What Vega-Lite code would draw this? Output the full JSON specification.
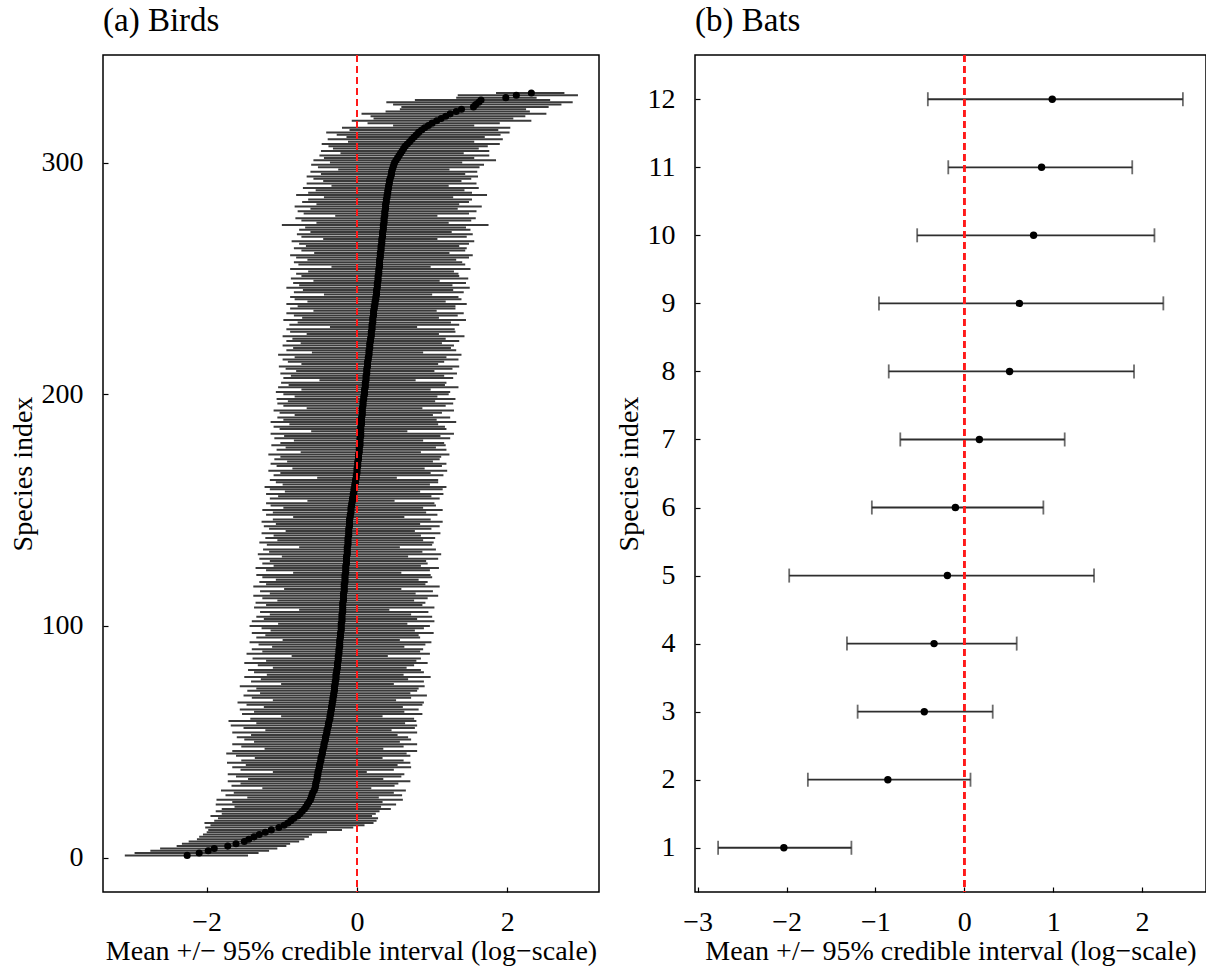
{
"$schema": "https://vega.github.io/schema/vega-lite/v6.json",
"background": "white",
"padding": {"left": 8, "top": 4, "right": 0, "bottom": 0},
"spacing": 14,
"config": {
  "font": "Liberation Serif",
  "view": {"stroke": "black", "strokeWidth": 1.5},
  "axis": {"domain": false, "grid": false, "ticks": true, "tickColor": "black", "tickSize": -5, "tickWidth": 1.2, "format": "d",
    "labelFont": "Liberation Serif", "labelFontSize": 28, "labelColor": "black", "labelFlush": false, "labelOverlap": false, "labelBound": false,
    "titleFont": "Liberation Serif", "titleFontSize": 28, "titleFontWeight": "normal", "titleColor": "black"},
  "axisX": {"labelPadding": 21, "titlePadding": 1},
  "axisY": {"labelPadding": 25, "titlePadding": 4},
  "title": {"font": "Liberation Serif", "fontSize": 33, "fontWeight": "normal", "anchor": "start", "frame": "group", "baseline": "alphabetic", "offset": 16, "color": "black"}
},
"hconcat": [
{
  "width": 496, "height": 837,
  "title": "(a) Birds",
  "data": {"values": [
{"i":1,"m":-2.26,"lo":-3.09,"hi":-1.45},{"i":2,"m":-2.10,"lo":-2.96,"hi":-1.31},{"i":3,"m":-1.98,"lo":-2.75,"hi":-1.17},{"i":4,"m":-1.90,"lo":-2.62,"hi":-1.06},{"i":5,"m":-1.72,"lo":-2.40,"hi":-0.94},
{"i":6,"m":-1.61,"lo":-2.33,"hi":-0.89},{"i":7,"m":-1.50,"lo":-2.24,"hi":-0.77},{"i":8,"m":-1.44,"lo":-2.13,"hi":-0.70},{"i":9,"m":-1.37,"lo":-2.10,"hi":-0.64},{"i":10,"m":-1.30,"lo":-2.05,"hi":-0.60},
{"i":11,"m":-1.22,"lo":-2.00,"hi":-0.40},{"i":12,"m":-1.14,"lo":-1.98,"hi":-0.20},{"i":13,"m":-1.04,"lo":-2.02,"hi":-0.05},{"i":14,"m":-0.97,"lo":-1.95,"hi":0.10},{"i":15,"m":-0.92,"lo":-2.03,"hi":0.22},
{"i":16,"m":-0.88,"lo":-1.90,"hi":0.26},{"i":17,"m":-0.84,"lo":-1.85,"hi":0.28},{"i":18,"m":-0.79,"lo":-1.95,"hi":0.20},{"i":19,"m":-0.76,"lo":-1.80,"hi":0.25},{"i":20,"m":-0.73,"lo":-1.88,"hi":0.30},
{"i":21,"m":-0.70,"lo":-1.80,"hi":0.45},{"i":22,"m":-0.68,"lo":-1.63,"hi":0.32},{"i":23,"m":-0.66,"lo":-1.88,"hi":0.52},{"i":24,"m":-0.64,"lo":-1.66,"hi":0.34},{"i":25,"m":-0.62,"lo":-1.87,"hi":0.61},
{"i":26,"m":-0.61,"lo":-1.46,"hi":0.29},{"i":27,"m":-0.60,"lo":-1.75,"hi":0.60},{"i":28,"m":-0.59,"lo":-1.64,"hi":0.49},{"i":29,"m":-0.57,"lo":-1.81,"hi":0.65},{"i":30,"m":-0.56,"lo":-1.26,"hi":0.19},
{"i":31,"m":-0.55,"lo":-1.67,"hi":0.50},{"i":32,"m":-0.55,"lo":-1.55,"hi":0.55},{"i":33,"m":-0.54,"lo":-1.72,"hi":0.71},{"i":34,"m":-0.53,"lo":-1.45,"hi":0.35},{"i":35,"m":-0.53,"lo":-1.61,"hi":0.59},
{"i":36,"m":-0.52,"lo":-1.72,"hi":0.63},{"i":37,"m":-0.52,"lo":-1.12,"hi":0.13},{"i":38,"m":-0.51,"lo":-1.55,"hi":0.49},{"i":39,"m":-0.50,"lo":-1.66,"hi":0.72},{"i":40,"m":-0.50,"lo":-1.48,"hi":0.54},
{"i":41,"m":-0.49,"lo":-1.73,"hi":0.71},{"i":42,"m":-0.48,"lo":-1.54,"hi":0.62},{"i":43,"m":-0.48,"lo":-1.36,"hi":0.34},{"i":44,"m":-0.47,"lo":-1.61,"hi":0.71},{"i":45,"m":-0.46,"lo":-1.74,"hi":0.66},
{"i":46,"m":-0.46,"lo":-1.66,"hi":0.80},{"i":47,"m":-0.45,"lo":-1.23,"hi":0.35},{"i":48,"m":-0.44,"lo":-1.54,"hi":0.62},{"i":49,"m":-0.44,"lo":-1.66,"hi":0.80},{"i":50,"m":-0.43,"lo":-1.37,"hi":0.57},
{"i":51,"m":-0.42,"lo":-1.50,"hi":0.72},{"i":52,"m":-0.42,"lo":-1.60,"hi":0.68},{"i":53,"m":-0.41,"lo":-1.41,"hi":0.54},{"i":54,"m":-0.40,"lo":-1.66,"hi":0.80},{"i":55,"m":-0.40,"lo":-1.22,"hi":0.46},
{"i":56,"m":-0.39,"lo":-1.51,"hi":0.77},{"i":57,"m":-0.38,"lo":-1.68,"hi":0.80},{"i":58,"m":-0.38,"lo":-1.34,"hi":0.64},{"i":59,"m":-0.37,"lo":-1.71,"hi":0.79},{"i":60,"m":-0.36,"lo":-1.42,"hi":0.76},
{"i":61,"m":-0.36,"lo":-1.01,"hi":0.34},{"i":62,"m":-0.35,"lo":-1.53,"hi":0.87},{"i":63,"m":-0.35,"lo":-1.37,"hi":0.63},{"i":64,"m":-0.34,"lo":-1.56,"hi":0.82},{"i":65,"m":-0.34,"lo":-1.24,"hi":0.61},
{"i":66,"m":-0.33,"lo":-1.47,"hi":0.87},{"i":67,"m":-0.33,"lo":-1.59,"hi":0.89},{"i":68,"m":-0.32,"lo":-1.12,"hi":0.52},{"i":69,"m":-0.32,"lo":-1.40,"hi":0.72},{"i":70,"m":-0.31,"lo":-1.51,"hi":0.93},
{"i":71,"m":-0.31,"lo":-1.29,"hi":0.71},{"i":72,"m":-0.30,"lo":-1.46,"hi":0.80},{"i":73,"m":-0.30,"lo":-1.34,"hi":0.82},{"i":74,"m":-0.30,"lo":-1.56,"hi":0.90},{"i":75,"m":-0.29,"lo":-1.01,"hi":0.49},
{"i":76,"m":-0.29,"lo":-1.41,"hi":0.89},{"i":77,"m":-0.28,"lo":-1.28,"hi":0.68},{"i":78,"m":-0.28,"lo":-1.50,"hi":0.98},{"i":79,"m":-0.28,"lo":-1.20,"hi":0.62},{"i":80,"m":-0.27,"lo":-1.37,"hi":0.89},
{"i":81,"m":-0.27,"lo":-1.45,"hi":0.85},{"i":82,"m":-0.26,"lo":-1.12,"hi":0.66},{"i":83,"m":-0.26,"lo":-1.32,"hi":0.76},{"i":84,"m":-0.26,"lo":-1.50,"hi":0.94},{"i":85,"m":-0.25,"lo":-1.21,"hi":0.79},
{"i":86,"m":-0.25,"lo":-1.39,"hi":0.85},{"i":87,"m":-0.25,"lo":-0.87,"hi":0.41},{"i":88,"m":-0.24,"lo":-1.47,"hi":0.97},{"i":89,"m":-0.24,"lo":-1.26,"hi":0.84},{"i":90,"m":-0.24,"lo":-1.40,"hi":0.88},
{"i":91,"m":-0.23,"lo":-1.13,"hi":0.63},{"i":92,"m":-0.23,"lo":-1.31,"hi":0.91},{"i":93,"m":-0.23,"lo":-1.43,"hi":0.99},{"i":94,"m":-0.23,"lo":-0.99,"hi":0.57},{"i":95,"m":-0.22,"lo":-1.34,"hi":0.84},
{"i":96,"m":-0.22,"lo":-1.22,"hi":0.82},{"i":97,"m":-0.22,"lo":-1.40,"hi":1.02},{"i":98,"m":-0.21,"lo":-1.15,"hi":0.77},{"i":99,"m":-0.21,"lo":-1.27,"hi":0.89},{"i":100,"m":-0.21,"lo":-1.43,"hi":0.97},
{"i":101,"m":-0.21,"lo":-1.05,"hi":0.67},{"i":102,"m":-0.20,"lo":-1.40,"hi":1.03},{"i":103,"m":-0.20,"lo":-1.24,"hi":0.80},{"i":104,"m":-0.20,"lo":-1.34,"hi":1.00},{"i":105,"m":-0.20,"lo":-1.16,"hi":0.72},
{"i":106,"m":-0.19,"lo":-1.29,"hi":0.95},{"i":107,"m":-0.19,"lo":-0.77,"hi":0.43},{"i":108,"m":-0.19,"lo":-1.37,"hi":1.03},{"i":109,"m":-0.19,"lo":-1.21,"hi":0.87},{"i":110,"m":-0.19,"lo":-1.35,"hi":0.91},
{"i":111,"m":-0.18,"lo":-1.06,"hi":0.76},{"i":112,"m":-0.18,"lo":-1.26,"hi":0.94},{"i":113,"m":-0.18,"lo":-1.38,"hi":1.08},{"i":114,"m":-0.18,"lo":-1.16,"hi":0.78},{"i":115,"m":-0.17,"lo":-1.29,"hi":1.01},
{"i":116,"m":-0.17,"lo":-0.97,"hi":0.59},{"i":117,"m":-0.17,"lo":-1.38,"hi":1.10},{"i":118,"m":-0.17,"lo":-1.21,"hi":0.91},{"i":119,"m":-0.16,"lo":-1.30,"hi":0.94},{"i":120,"m":-0.16,"lo":-1.08,"hi":0.82},
{"i":121,"m":-0.16,"lo":-1.26,"hi":1.00},{"i":122,"m":-0.16,"lo":-1.34,"hi":0.98},{"i":123,"m":-0.15,"lo":-0.85,"hi":0.59},{"i":124,"m":-0.15,"lo":-1.21,"hi":0.97},{"i":125,"m":-0.15,"lo":-1.35,"hi":1.09},
{"i":126,"m":-0.15,"lo":-1.11,"hi":0.85},{"i":127,"m":-0.14,"lo":-1.26,"hi":0.94},{"i":128,"m":-0.14,"lo":-1.16,"hi":0.92},{"i":129,"m":-0.14,"lo":-1.30,"hi":1.08},{"i":130,"m":-0.14,"lo":-1.00,"hi":0.68},
{"i":131,"m":-0.13,"lo":-1.32,"hi":1.12},{"i":132,"m":-0.13,"lo":-1.17,"hi":0.87},{"i":133,"m":-0.13,"lo":-1.25,"hi":1.05},{"i":134,"m":-0.13,"lo":-0.77,"hi":0.57},{"i":135,"m":-0.12,"lo":-1.20,"hi":1.00},
{"i":136,"m":-0.12,"lo":-1.30,"hi":1.02},{"i":137,"m":-0.12,"lo":-1.06,"hi":0.88},{"i":138,"m":-0.12,"lo":-1.22,"hi":1.04},{"i":139,"m":-0.11,"lo":-1.11,"hi":0.85},{"i":140,"m":-0.11,"lo":-1.27,"hi":1.11},
{"i":141,"m":-0.11,"lo":-0.95,"hi":0.77},{"i":142,"m":-0.11,"lo":-1.17,"hi":0.99},{"i":143,"m":-0.10,"lo":-1.24,"hi":1.10},{"i":144,"m":-0.10,"lo":-1.08,"hi":0.84},{"i":145,"m":-0.10,"lo":-1.27,"hi":1.14},
{"i":146,"m":-0.10,"lo":-1.12,"hi":0.98},{"i":147,"m":-0.09,"lo":-0.85,"hi":0.63},{"i":148,"m":-0.09,"lo":-1.21,"hi":1.07},{"i":149,"m":-0.08,"lo":-1.12,"hi":0.92},{"i":150,"m":-0.08,"lo":-1.26,"hi":1.14},
{"i":151,"m":-0.08,"lo":-0.98,"hi":0.88},{"i":152,"m":-0.07,"lo":-1.15,"hi":1.05},{"i":153,"m":-0.07,"lo":-1.21,"hi":1.03},{"i":154,"m":-0.06,"lo":-0.66,"hi":0.50},{"i":155,"m":-0.06,"lo":-1.16,"hi":1.10},
{"i":156,"m":-0.05,"lo":-1.05,"hi":0.99},{"i":157,"m":-0.05,"lo":-1.21,"hi":1.15},{"i":158,"m":-0.04,"lo":-0.96,"hi":0.84},{"i":159,"m":-0.04,"lo":-1.16,"hi":1.14},{"i":160,"m":-0.03,"lo":-1.23,"hi":1.19},
{"i":161,"m":-0.03,"lo":-0.99,"hi":0.97},{"i":162,"m":-0.02,"lo":-1.08,"hi":1.08},{"i":163,"m":-0.02,"lo":-1.16,"hi":1.08},{"i":164,"m":-0.01,"lo":-0.53,"hi":0.53},{"i":165,"m":-0.01,"lo":-1.11,"hi":1.15},
{"i":166,"m":0.00,"lo":-1.02,"hi":0.98},{"i":167,"m":0.00,"lo":-1.18,"hi":1.20},{"i":168,"m":0.00,"lo":-0.86,"hi":0.90},{"i":169,"m":0.01,"lo":-1.07,"hi":1.13},{"i":170,"m":0.01,"lo":-1.15,"hi":1.19},
{"i":171,"m":0.01,"lo":-0.93,"hi":1.01},{"i":172,"m":0.02,"lo":-1.10,"hi":1.10},{"i":173,"m":0.02,"lo":-1.02,"hi":1.12},{"i":174,"m":0.02,"lo":-1.18,"hi":1.23},{"i":175,"m":0.03,"lo":-0.75,"hi":0.85},
{"i":176,"m":0.03,"lo":-1.07,"hi":1.19},{"i":177,"m":0.03,"lo":-0.95,"hi":1.05},{"i":178,"m":0.04,"lo":-1.14,"hi":1.18},{"i":179,"m":0.04,"lo":-1.02,"hi":1.16},{"i":180,"m":0.04,"lo":-0.84,"hi":0.88},
{"i":181,"m":0.04,"lo":-1.10,"hi":1.24},{"i":182,"m":0.05,"lo":-0.97,"hi":1.11},{"i":183,"m":0.05,"lo":-1.15,"hi":1.29},{"i":184,"m":0.05,"lo":-0.61,"hi":0.67},{"i":185,"m":0.05,"lo":-1.03,"hi":1.19},
{"i":186,"m":0.05,"lo":-1.11,"hi":1.17},{"i":187,"m":0.06,"lo":-0.90,"hi":1.08},{"i":188,"m":0.06,"lo":-1.15,"hi":1.32},{"i":189,"m":0.06,"lo":-0.98,"hi":1.06},{"i":190,"m":0.06,"lo":-1.06,"hi":1.24},
{"i":191,"m":0.07,"lo":-0.83,"hi":1.01},{"i":192,"m":0.07,"lo":-1.03,"hi":1.13},{"i":193,"m":0.07,"lo":-1.11,"hi":1.29},{"i":194,"m":0.07,"lo":-0.67,"hi":0.87},{"i":195,"m":0.08,"lo":-0.98,"hi":1.18},
{"i":196,"m":0.08,"lo":-1.06,"hi":1.28},{"i":197,"m":0.08,"lo":-0.92,"hi":1.04},{"i":198,"m":0.09,"lo":-1.07,"hi":1.31},{"i":199,"m":0.09,"lo":-0.83,"hi":1.07},{"i":200,"m":0.10,"lo":-0.98,"hi":1.22},
{"i":201,"m":0.10,"lo":-1.08,"hi":1.24},{"i":202,"m":0.10,"lo":-0.74,"hi":0.98},{"i":203,"m":0.11,"lo":-1.05,"hi":1.35},{"i":204,"m":0.11,"lo":-0.91,"hi":1.17},{"i":205,"m":0.11,"lo":-1.01,"hi":1.19},
{"i":206,"m":0.12,"lo":-0.50,"hi":0.78},{"i":207,"m":0.12,"lo":-0.98,"hi":1.28},{"i":208,"m":0.12,"lo":-0.88,"hi":1.16},{"i":209,"m":0.13,"lo":-1.02,"hi":1.33},{"i":210,"m":0.13,"lo":-0.81,"hi":1.03},
{"i":211,"m":0.13,"lo":-0.95,"hi":1.27},{"i":212,"m":0.14,"lo":-1.04,"hi":1.36},{"i":213,"m":0.14,"lo":-0.74,"hi":1.08},{"i":214,"m":0.14,"lo":-0.92,"hi":1.16},{"i":215,"m":0.15,"lo":-0.99,"hi":1.35},
{"i":216,"m":0.15,"lo":-0.83,"hi":1.19},{"i":217,"m":0.16,"lo":-1.05,"hi":1.39},{"i":218,"m":0.16,"lo":-0.60,"hi":0.88},{"i":219,"m":0.16,"lo":-0.94,"hi":1.32},{"i":220,"m":0.17,"lo":-0.85,"hi":1.25},
{"i":221,"m":0.17,"lo":-0.99,"hi":1.29},{"i":222,"m":0.17,"lo":-0.75,"hi":1.13},{"i":223,"m":0.18,"lo":-0.94,"hi":1.36},{"i":224,"m":0.18,"lo":-0.86,"hi":1.18},{"i":225,"m":0.19,"lo":-0.99,"hi":1.43},
{"i":226,"m":0.19,"lo":-0.67,"hi":1.09},{"i":227,"m":0.19,"lo":-0.89,"hi":1.31},{"i":228,"m":0.20,"lo":-0.94,"hi":1.30},{"i":229,"m":0.20,"lo":-0.36,"hi":0.80},{"i":230,"m":0.20,"lo":-0.90,"hi":1.36},
{"i":231,"m":0.21,"lo":-0.79,"hi":1.25},{"i":232,"m":0.21,"lo":-0.98,"hi":1.45},{"i":233,"m":0.21,"lo":-0.73,"hi":1.09},{"i":234,"m":0.22,"lo":-0.84,"hi":1.34},{"i":235,"m":0.22,"lo":-0.94,"hi":1.42},
{"i":236,"m":0.22,"lo":-0.58,"hi":1.06},{"i":237,"m":0.23,"lo":-0.89,"hi":1.31},{"i":238,"m":0.23,"lo":-0.79,"hi":1.31},{"i":239,"m":0.24,"lo":-0.94,"hi":1.46},{"i":240,"m":0.24,"lo":-0.66,"hi":1.18},
{"i":241,"m":0.25,"lo":-0.83,"hi":1.39},{"i":242,"m":0.25,"lo":-0.89,"hi":1.35},{"i":243,"m":0.26,"lo":-0.44,"hi":1.00},{"i":244,"m":0.26,"lo":-0.84,"hi":1.42},{"i":245,"m":0.26,"lo":-0.72,"hi":1.28},
{"i":246,"m":0.27,"lo":-0.94,"hi":1.50},{"i":247,"m":0.27,"lo":-0.77,"hi":1.27},{"i":248,"m":0.27,"lo":-0.85,"hi":1.45},{"i":249,"m":0.28,"lo":-0.58,"hi":1.10},{"i":250,"m":0.28,"lo":-0.88,"hi":1.48},
{"i":251,"m":0.28,"lo":-0.74,"hi":1.36},{"i":252,"m":0.29,"lo":-0.81,"hi":1.35},{"i":253,"m":0.29,"lo":-0.65,"hi":1.29},{"i":254,"m":0.29,"lo":-0.89,"hi":1.51},{"i":255,"m":0.30,"lo":-0.34,"hi":0.98},
{"i":256,"m":0.30,"lo":-0.78,"hi":1.44},{"i":257,"m":0.30,"lo":-0.84,"hi":1.40},{"i":258,"m":0.30,"lo":-0.66,"hi":1.32},{"i":259,"m":0.31,"lo":-0.81,"hi":1.49},{"i":260,"m":0.31,"lo":-0.89,"hi":1.54},
{"i":261,"m":0.31,"lo":-0.57,"hi":1.23},{"i":262,"m":0.32,"lo":-0.74,"hi":1.44},{"i":263,"m":0.32,"lo":-0.84,"hi":1.46},{"i":264,"m":0.32,"lo":-0.68,"hi":1.36},{"i":265,"m":0.33,"lo":-0.77,"hi":1.49},
{"i":266,"m":0.33,"lo":-0.87,"hi":1.56},{"i":267,"m":0.33,"lo":-0.45,"hi":1.07},{"i":268,"m":0.34,"lo":-0.74,"hi":1.46},{"i":269,"m":0.34,"lo":-0.80,"hi":1.54},{"i":270,"m":0.34,"lo":-0.62,"hi":1.26},
{"i":271,"m":0.35,"lo":-0.77,"hi":1.51},{"i":272,"m":0.35,"lo":-0.69,"hi":1.45},{"i":273,"m":0.35,"lo":-1.00,"hi":1.75},{"i":274,"m":0.36,"lo":-0.54,"hi":1.22},{"i":275,"m":0.36,"lo":-0.74,"hi":1.52},
{"i":276,"m":0.36,"lo":-0.82,"hi":1.58},{"i":277,"m":0.37,"lo":-0.29,"hi":1.07},{"i":278,"m":0.37,"lo":-0.71,"hi":1.49},{"i":279,"m":0.37,"lo":-0.79,"hi":1.59},{"i":280,"m":0.38,"lo":-0.62,"hi":1.34},
{"i":281,"m":0.38,"lo":-0.83,"hi":1.66},{"i":282,"m":0.38,"lo":-0.54,"hi":1.36},{"i":283,"m":0.39,"lo":-0.73,"hi":1.49},{"i":284,"m":0.39,"lo":-0.65,"hi":1.53},{"i":285,"m":0.40,"lo":-0.44,"hi":1.28},
{"i":286,"m":0.40,"lo":-0.81,"hi":1.73},{"i":287,"m":0.41,"lo":-0.65,"hi":1.53},{"i":288,"m":0.41,"lo":-0.55,"hi":1.43},{"i":289,"m":0.42,"lo":-0.72,"hi":1.62},{"i":290,"m":0.42,"lo":-0.34,"hi":1.22},
{"i":291,"m":0.43,"lo":-0.67,"hi":1.59},{"i":292,"m":0.43,"lo":-0.45,"hi":1.39},{"i":293,"m":0.44,"lo":-0.58,"hi":1.52},{"i":294,"m":0.45,"lo":-0.67,"hi":1.61},{"i":295,"m":0.46,"lo":-0.48,"hi":1.44},
{"i":296,"m":0.46,"lo":-0.62,"hi":1.60},{"i":297,"m":0.47,"lo":-0.25,"hi":1.23},{"i":298,"m":0.48,"lo":-0.52,"hi":1.63},{"i":299,"m":0.49,"lo":-0.61,"hi":1.69},{"i":300,"m":0.50,"lo":-0.36,"hi":1.40},
{"i":301,"m":0.52,"lo":-0.58,"hi":1.85},{"i":302,"m":0.54,"lo":-0.44,"hi":1.56},{"i":303,"m":0.56,"lo":-0.50,"hi":1.76},{"i":304,"m":0.58,"lo":-0.22,"hi":1.42},{"i":305,"m":0.60,"lo":-0.48,"hi":1.76},
{"i":306,"m":0.62,"lo":-0.32,"hi":1.62},{"i":307,"m":0.64,"lo":-0.38,"hi":1.74},{"i":308,"m":0.67,"lo":-0.47,"hi":1.90},{"i":309,"m":0.70,"lo":-0.12,"hi":1.56},{"i":310,"m":0.73,"lo":-0.39,"hi":1.94},
{"i":311,"m":0.76,"lo":-0.14,"hi":1.70},{"i":312,"m":0.79,"lo":-0.27,"hi":1.91},{"i":313,"m":0.82,"lo":-0.41,"hi":2.03},{"i":314,"m":0.86,"lo":-0.10,"hi":1.88},{"i":315,"m":0.90,"lo":-0.20,"hi":2.04},
{"i":316,"m":0.95,"lo":0.48,"hi":1.56},{"i":317,"m":1.00,"lo":0.14,"hi":1.90},{"i":318,"m":1.06,"lo":-0.07,"hi":2.32},{"i":319,"m":1.12,"lo":0.22,"hi":2.08},{"i":320,"m":1.18,"lo":0.18,"hi":2.24},
{"i":321,"m":1.24,"lo":0.06,"hi":2.52},{"i":322,"m":1.32,"lo":0.38,"hi":2.30},{"i":323,"m":1.39,"lo":0.57,"hi":2.25},{"i":324,"m":1.55,"lo":0.59,"hi":2.55},{"i":325,"m":1.58,"lo":0.48,"hi":2.72},
{"i":326,"m":1.62,"lo":0.39,"hi":2.87},{"i":327,"m":1.65,"lo":0.77,"hi":2.57},{"i":328,"m":1.98,"lo":1.32,"hi":2.39},{"i":329,"m":2.12,"lo":1.34,"hi":2.94},{"i":330,"m":2.32,"lo":1.85,"hi":2.76}
  ]},
  "layer": [
    {"mark": {"type": "rule", "color": "#3a3a3a", "strokeWidth": 2},
     "encoding": {
       "y": {"field": "i", "type": "quantitative", "scale": {"domain": [-14.8, 346.4], "nice": false, "zero": false},
             "axis": {"values": [0, 100, 200, 300], "title": "Species index"}},
       "x": {"field": "lo", "type": "quantitative", "scale": {"domain": [-3.38, 3.22], "nice": false, "zero": false},
             "axis": {"values": [-2, 0, 2], "title": "Mean +/\u2212 95% credible interval (log\u2212scale)"}},
       "x2": {"field": "hi"}}},
    {"mark": {"type": "point", "shape": "circle", "filled": true, "color": "black", "opacity": 1, "size": 50},
     "encoding": {"x": {"field": "m", "type": "quantitative"}, "y": {"field": "i", "type": "quantitative"}}},
    {"mark": {"type": "rule", "color": "#ff1a1a", "strokeDash": [7, 4], "strokeWidth": 1.8},
     "encoding": {"x": {"datum": 0, "type": "quantitative"}}}
  ]
},
{
  "width": 511, "height": 837,
  "title": "(b) Bats",
  "data": {"values": [
    {"i":1,"m":-2.03,"lo":-2.77,"hi":-1.27},
    {"i":2,"m":-0.86,"lo":-1.76,"hi":0.07},
    {"i":3,"m":-0.45,"lo":-1.20,"hi":0.32},
    {"i":4,"m":-0.34,"lo":-1.32,"hi":0.59},
    {"i":5,"m":-0.19,"lo":-1.97,"hi":1.46},
    {"i":6,"m":-0.10,"lo":-1.04,"hi":0.89},
    {"i":7,"m":0.17,"lo":-0.72,"hi":1.13},
    {"i":8,"m":0.51,"lo":-0.85,"hi":1.91},
    {"i":9,"m":0.62,"lo":-0.96,"hi":2.24},
    {"i":10,"m":0.78,"lo":-0.53,"hi":2.14},
    {"i":11,"m":0.87,"lo":-0.18,"hi":1.89},
    {"i":12,"m":0.99,"lo":-0.41,"hi":2.46}
  ]},
  "layer": [
    {"mark": {"type": "rule", "color": "#2e2e2e", "strokeWidth": 1.8},
     "encoding": {
       "y": {"field": "i", "type": "quantitative", "scale": {"domain": [0.35, 12.65], "nice": false, "zero": false},
             "axis": {"values": [1,2,3,4,5,6,7,8,9,10,11,12], "title": "Species index"}},
       "x": {"field": "lo", "type": "quantitative", "scale": {"domain": [-3.03, 2.72], "nice": false, "zero": false},
             "axis": {"values": [-3,-2,-1,0,1,2], "title": "Mean +/\u2212 95% credible interval (log\u2212scale)"}},
       "x2": {"field": "hi"}}},
    {"mark": {"type": "tick", "orient": "vertical", "color": "#2e2e2e", "size": 14, "thickness": 1.8},
     "encoding": {"x": {"field": "lo", "type": "quantitative"}, "y": {"field": "i", "type": "quantitative"}}},
    {"mark": {"type": "tick", "orient": "vertical", "color": "#2e2e2e", "size": 14, "thickness": 1.8},
     "encoding": {"x": {"field": "hi", "type": "quantitative"}, "y": {"field": "i", "type": "quantitative"}}},
    {"mark": {"type": "point", "shape": "circle", "filled": true, "color": "black", "opacity": 1, "size": 55},
     "encoding": {"x": {"field": "m", "type": "quantitative"}, "y": {"field": "i", "type": "quantitative"}}},
    {"mark": {"type": "rule", "color": "#ff1a1a", "strokeDash": [7, 4], "strokeWidth": 1.8},
     "encoding": {"x": {"datum": 0, "type": "quantitative"}}}
  ]
}
]
}
